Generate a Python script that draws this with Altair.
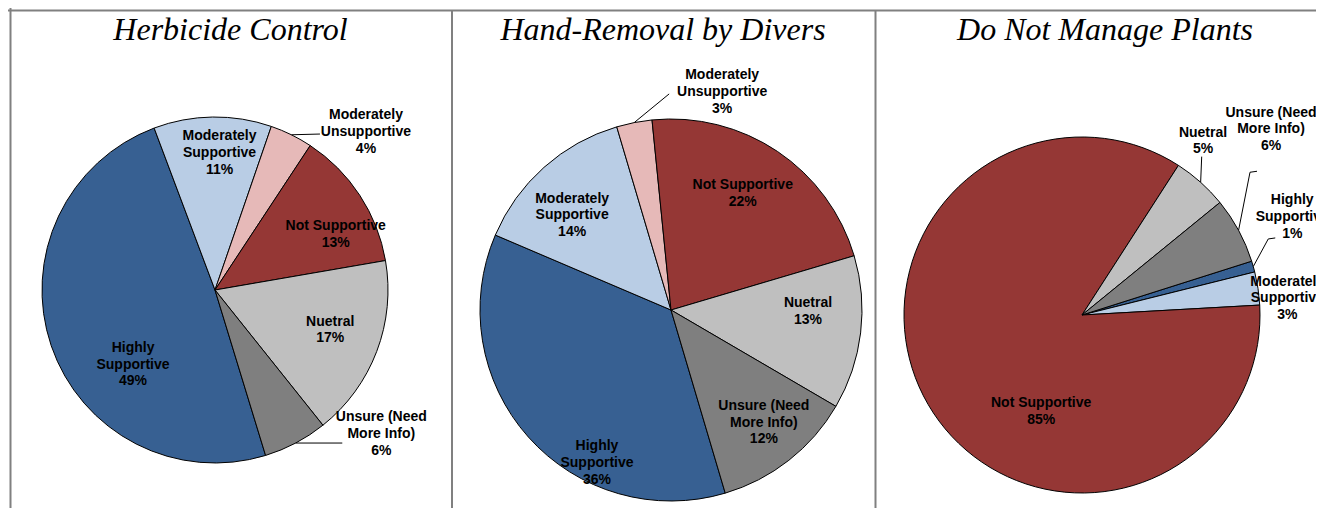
import math
import altair as alt
import pandas as pd

# ---------------- data ----------------
categories = ["Highly Supportive", "Moderately Supportive", "Moderately Unsupportive",
              "Not Supportive", "Nuetral", "Unsure (Need More Info)"]
label_lines = ["Highly\nSupportive", "Moderately\nSupportive", "Moderately\nUnsupportive",
               "Not Supportive", "Nuetral", "Unsure (Need\nMore Info)"]
colors = ["#376092", "#B9CDE5", "#E6B9B8", "#953735", "#BFBFBF", "#7F7F7F"]

titles = ["Herbicide Control", "Hand-Removal by Divers", "Do Not Manage Plants"]
herbicide = [49, 11, 4, 13, 17, 6]
hand_removal = [36, 14, 3, 22, 13, 12]
do_not_manage = [1, 3, 0, 85, 5, 6]

# ---------------- layout (pixels / degrees) ----------------
W, H = 1308, 500
pie_cx = [207, 663, 1074]
pie_cy = [282, 302, 307]
pie_r = [173, 191, 178]
pie_start = [163, 163.5, 72.4]
title_x = [222.5, 655, 1097]
title_y = 31.5
LINE_H = 16.6

# label placement: radius (px) and angle shift (deg) from the slice middle
lab_r = [[111, 137, 218.5, 133, 122, 220],
         [170, 137, 224, 137, 137, 146],
         [232, 206, 0, 105, 212, 265]]
lab_da = [[-23.6, 2.7, 17.5, 8.4, -1.6, -21.3],
          [-22.5, -4.5, 24.3, -2.3, -6.3, -1.4],
          [-9.2, 3.9, 0, -36.9, -7, -16.1]]
# leader lines: elbow and end offsets from the label centre (None = no leader)
leaders = [
    [None, None, ((-46, 2), (-46, 2)), None, None, ((-39, 9), (-39, 9))],
    [None, None, ((-53, 2), (-53, 2)), None, None, None],
    [((-24, 22), (-17, 21)), None, None, None, ((-1.3, 15.7), (-1.3, 15.7)), ((-21, 43), (-14, 42))],
]

FONT = "Liberation Sans"
color_scale = alt.Scale(domain=categories, range=colors)


def pie(i, values):
    cx, cy, R, s = pie_cx[i], pie_cy[i], pie_r[i], pie_start[i]
    rows = []
    for k in range(len(categories)):
        ld = leaders[i][k]
        rows.append({
            "idx": k, "cat": categories[k], "label": label_lines[k], "value": values[k],
            "lr": lab_r[i][k], "da": lab_da[i][k],
            "lead": 0 if ld is None else 1,
            "ex": 0 if ld is None else ld[0][0], "ey": 0 if ld is None else ld[0][1],
            "tx": 0 if ld is None else ld[1][0], "ty": 0 if ld is None else ld[1][1],
        })
    df = pd.DataFrame(rows)
    df = df[df["value"] > 0]
    base = alt.Chart(df)
    s_rad = s * math.pi / 180
    arcs = base.mark_arc(radius=R, stroke="black", strokeWidth=1).encode(
        theta=alt.Theta("value:Q", stack=True, scale=alt.Scale(range=[s_rad, s_rad + 2 * math.pi])),
        order=alt.Order("idx:Q"),
        color=alt.Color("cat:N", scale=color_scale, legend=None),
        x=alt.value(cx), y=alt.value(cy),
    )
    geo = (base
           .transform_joinaggregate(total="sum(value)")
           .transform_window(cum="sum(value)", sort=[alt.SortField("idx")], frame=[None, 0])
           .transform_calculate(mid=f"({s} + 360*(datum.cum - datum.value/2)/datum.total)*PI/180")
           .transform_calculate(la="datum.mid + datum.da*PI/180")
           .transform_calculate(lx=f"{cx} + datum.lr*sin(datum.la)")
           .transform_calculate(ly=f"{cy} - datum.lr*cos(datum.la)")
           .transform_calculate(ax=f"{cx} + {R}*sin(datum.mid)")
           .transform_calculate(ay=f"{cy} - {R}*cos(datum.mid)")
           .transform_calculate(bx="datum.lx + datum.ex")
           .transform_calculate(by="datum.ly + datum.ey")
           .transform_calculate(cx2="datum.lx + datum.tx")
           .transform_calculate(cy2="datum.ly + datum.ty")
           .transform_calculate(txt="datum.label + '\\n' + datum.value + '%'")
           .transform_calculate(nl="length(split(datum.txt, '\\n'))")
           .transform_calculate(ty0=f"datum.ly - (datum.nl - 1)*{LINE_H}/2"))
    text = geo.mark_text(font=FONT, fontWeight="bold", fontSize=14, lineBreak="\n",
                         lineHeight=LINE_H, align="center", baseline="middle", color="black").encode(
        x=alt.X("lx:Q", scale=None), y=alt.Y("ty0:Q", scale=None), text="txt:N")
    lead = geo.transform_filter("datum.lead == 1")
    seg1 = lead.mark_rule(color="black", strokeWidth=1).encode(
        x=alt.X("ax:Q", scale=None), y=alt.Y("ay:Q", scale=None), x2="bx:Q", y2="by:Q")
    seg2 = lead.mark_rule(color="black", strokeWidth=1).encode(
        x=alt.X("bx:Q", scale=None), y=alt.Y("by:Q", scale=None), x2="cx2:Q", y2="cy2:Q")
    return alt.layer(arcs, seg1, seg2, text)


pies = [pie(0, herbicide), pie(1, hand_removal), pie(2, do_not_manage)]

title_df = pd.DataFrame({"title": titles, "tx": title_x})
title_layer = alt.Chart(title_df).mark_text(
    font="Liberation Serif", fontStyle="italic", fontSize=32, align="center",
    baseline="alphabetic", color="black").encode(
    x=alt.X("tx:Q", scale=None), y=alt.value(title_y), text="title:N")

grid_color = "#808080"
dummy = alt.Chart(pd.DataFrame({"a": [0]}))
borders = [
    dummy.mark_rule(color=grid_color, strokeWidth=2).encode(x=alt.value(0), x2=alt.value(W), y=alt.value(2.5)),
    dummy.mark_rule(color=grid_color, strokeWidth=2).encode(x=alt.value(2.5), y=alt.value(0), y2=alt.value(H)),
    dummy.mark_rule(color=grid_color, strokeWidth=2).encode(x=alt.value(444), y=alt.value(2.5), y2=alt.value(H)),
    dummy.mark_rule(color=grid_color, strokeWidth=2).encode(x=alt.value(867.5), y=alt.value(2.5), y2=alt.value(H)),
]

chart = alt.layer(*borders, *pies, title_layer).resolve_scale(theta="independent").properties(
    width=W, height=H, autosize=alt.AutoSizeParams(type="none"), padding=0,
    background="white",
).configure_view(stroke=None)

chart.save("out.html", embed_options={"renderer": "svg", "actions": False})
